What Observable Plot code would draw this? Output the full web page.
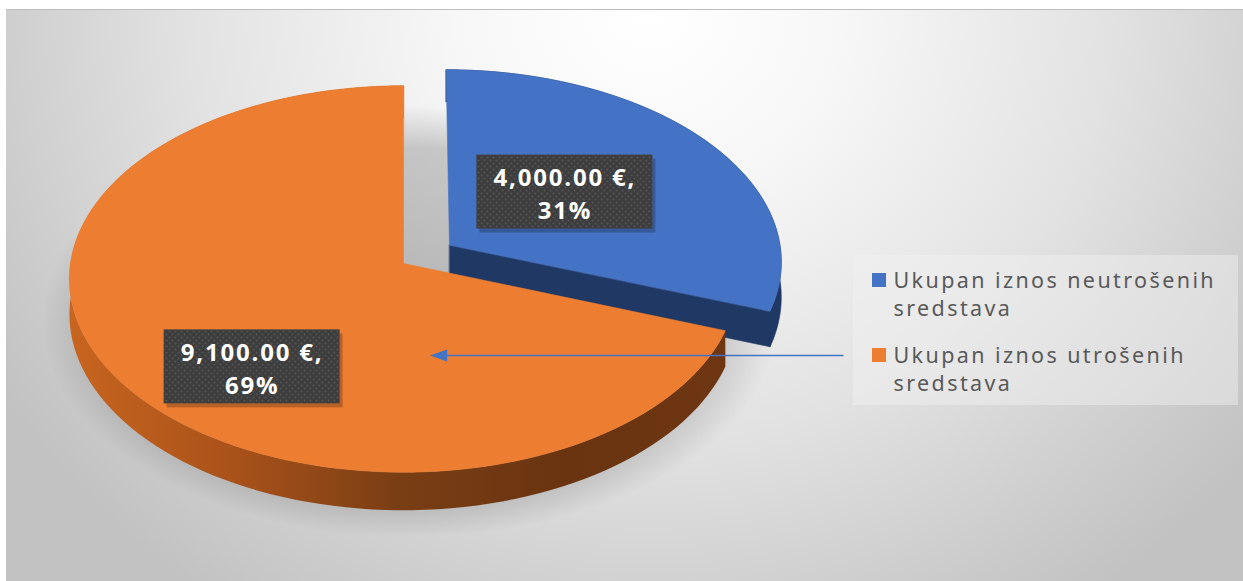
<!DOCTYPE html>
<html>
<head>
<meta charset="utf-8">
<script src="https://cdn.jsdelivr.net/npm/d3@7"></script>
<script src="https://cdn.jsdelivr.net/npm/@observablehq/plot@0.6"></script>
<style>
  html, body { margin: 0; padding: 0; background: #ffffff; }
  #wrap { position: relative; width: 1243px; height: 581px; overflow: hidden; }
  #bg { position: absolute; left: 6px; top: 9px; width: 1237px; height: 572px;
        border-top: 1px solid #bdbdbd;
        background: radial-gradient(ellipse 62% 125% at 52% 0%, #ffffff 0%, #f7f7f7 25%, #e2e2e2 60%, #cbcbcb 88%, #c2c2c2 100%); }
  #chart { position: absolute; left: 0; top: 0; }
  #chart g[font-weight="bold"] text { letter-spacing: 1.8px; }
  #chart g[font-family="Noto Sans"] text { letter-spacing: 2.4px; }
</style>
</head>
<body>
<div id="wrap"><div id="bg"></div><div id="chart"></div></div>
<script>
// ---- data ----
const categories = ["Ukupan iznos neutrošenih sredstava", "Ukupan iznos utrošenih sredstava"];
const values = [4000, 9100];
const colors = ["#4472C4", "#ED7D31"];
const sideColors = ["#1F3864", "url(#orangeSide)"];

// ---- layout (pixel space, identity scales) ----
const W = 1243, H = 581;
const G = {cx: 403, cy: 263, B: 333, A: 192, k: 0.08, depth: 35, explode: [0.17, 0], steps: 120};
const LBL = {r: [0.45, 0.68], nudge: [[-3, -5], [40, 26]], w: 176, h: 74};
const LEG = {x1: 853, x2: 1238, y1: 255, y2: 405, sq: 14, sqX: 872, textX: 893, row0: 280, rowStep: 75};

const total = d3.sum(values);
const arcs = d3.pie().sort(null).value(d => d)(values);
const money = d3.format(",.2f");

function proj(u, v, z) {
  const s = 1 / (1 + G.k * v);
  return [G.cx + G.B * u * s, G.cy - G.A * v * s + G.depth * z * s];
}
function sliceGeom(a, i) {
  const mid = (a.startAngle + a.endAngle) / 2;
  const ox = G.explode[i] * Math.sin(mid), oy = G.explode[i] * Math.cos(mid);
  const rim = (ang, z) => proj(ox + Math.sin(ang), oy + Math.cos(ang), z);
  const angs = d3.range(G.steps + 1).map(j => a.startAngle + (a.endAngle - a.startAngle) * j / G.steps);
  const c0 = proj(ox, oy, 0), c1 = proj(ox, oy, 1);
  const top = [c0, ...angs.map(t => rim(t, 0))];
  const side = [...angs.map(t => rim(t, 0)), ...angs.slice().reverse().map(t => rim(t, 1))];
  const cutEnd = [c0, rim(a.endAngle, 0), rim(a.endAngle, 1), c1];
  const lr = LBL.r[i];
  const lab = proj(ox + lr * Math.sin(mid), oy + lr * Math.cos(mid), 0);
  return {top, side, cutEnd, lab: [lab[0] + LBL.nudge[i][0], lab[1] + LBL.nudge[i][1]]};
}
const geoms = arcs.map(sliceGeom);

// shadow ellipse (under pie)
const shadow = d3.range(121).map(j => {
  const t = j / 120 * 2 * Math.PI;
  const p = proj(1.1 * Math.sin(t), 1.1 * Math.cos(t), 1);
  return [p[0] + 6, p[1] + 4];
});

const poly = (pts, fill) => Plot.line(pts, {x: d => d[0], y: d => d[1], curve: "linear-closed", fill, stroke: fill.startsWith("url") ? "none" : fill, strokeWidth: 0.6});

const labels = arcs.map((a, i) => ({
  x: geoms[i].lab[0], y: geoms[i].lab[1],
  text: `${money(values[i])} €,\n${Math.round(values[i] / total * 100)}%`
}));

const legendRows = categories.map((c, i) => ({
  name: c.replace(/ (\S+)$/, "\n$1"),
  color: colors[i],
  y: LEG.row0 + i * LEG.rowStep
}));

// arrow from legend (orange item) to orange slice
const arrowY = legendRows[1].y;
const arrowTip = labels[1].x + 178;
const arrowStart = LEG.x1 - 10;

const marks = [
  poly(shadow, "url(#shadowGrad)"),
  // blue (exploded) slice first, orange in front
  poly(geoms[0].side, sideColors[0]),
  poly(geoms[0].cutEnd, sideColors[0]),
  poly(geoms[0].top, colors[0]),
  poly(geoms[1].side, sideColors[1]),
  poly(geoms[1].top, colors[1]),
  // label boxes
  Plot.rect(labels, {x1: d => d.x - LBL.w / 2 + 3, x2: d => d.x + LBL.w / 2 + 3, y1: d => d.y - LBL.h / 2 + 4, y2: d => d.y + LBL.h / 2 + 4, fill: "#000", fillOpacity: 0.22}),
  Plot.rect(labels, {x1: d => d.x - LBL.w / 2, x2: d => d.x + LBL.w / 2, y1: d => d.y - LBL.h / 2, y2: d => d.y + LBL.h / 2, fill: "url(#dots)"}),
  Plot.text(labels, {x: "x", y: "y", text: "text", fill: "white", fontSize: 24, fontWeight: "bold", fontFamily: "Open Sans", lineHeight: 1.36}),
  // legend
  Plot.rect([LEG], {x1: "x1", x2: "x2", y1: "y1", y2: "y2", fill: "#f2f2f2", fillOpacity: 0.45}),
  Plot.rect(legendRows, {x1: LEG.sqX, x2: LEG.sqX + LEG.sq, y1: d => d.y - LEG.sq / 2, y2: d => d.y + LEG.sq / 2, fill: "color"}),
  Plot.text(legendRows, {x: LEG.textX, y: d => d.y - 12, text: "name", textAnchor: "start", lineAnchor: "top", fill: "#595959", fontSize: 21.5, fontFamily: "Noto Sans", lineHeight: 1.3}),
  // arrow
  Plot.link([0], {x1: arrowStart, x2: arrowTip + 14, y1: arrowY, y2: arrowY, stroke: "#4472C4", strokeWidth: 1.5}),
  Plot.line([[arrowTip, arrowY], [arrowTip + 17, arrowY - 6], [arrowTip + 17, arrowY + 6]], {x: d => d[0], y: d => d[1], curve: "linear-closed", fill: "#4472C4", stroke: "none"})
];

const svg = Plot.plot({
  width: W, height: H, margin: 0,
  x: {domain: [0, W], range: [0, W], axis: null},
  y: {domain: [0, H], range: [0, H], axis: null},
  color: {type: "identity"},
  style: {background: "transparent", overflow: "visible"},
  marks
});

const defs = d3.select(svg).insert("defs", ":first-child");
const sg = defs.append("radialGradient").attr("id", "shadowGrad");
sg.append("stop").attr("offset", "0%").attr("stop-color", "#000").attr("stop-opacity", 0.22);
sg.append("stop").attr("offset", "80%").attr("stop-color", "#000").attr("stop-opacity", 0.18);
sg.append("stop").attr("offset", "100%").attr("stop-color", "#000").attr("stop-opacity", 0);
const og = defs.append("linearGradient").attr("id", "orangeSide").attr("x1", 0).attr("x2", 1).attr("y1", 0).attr("y2", 0);
[["0%", "#C8651F"], ["25%", "#A9521A"], ["50%", "#7A3E14"], ["75%", "#6A3411"], ["100%", "#6E3612"]].forEach(([o, c]) =>
  og.append("stop").attr("offset", o).attr("stop-color", c));
const pat = defs.append("pattern").attr("id", "dots").attr("width", 6).attr("height", 6).attr("patternUnits", "userSpaceOnUse");
pat.append("rect").attr("width", 6).attr("height", 6).attr("fill", "#3d3d3d");
pat.append("circle").attr("cx", 1.5).attr("cy", 1.5).attr("r", 1).attr("fill", "#555555");
pat.append("circle").attr("cx", 4.5).attr("cy", 4.5).attr("r", 1).attr("fill", "#555555");

document.getElementById("chart").appendChild(svg);
</script>
</body>
</html>
